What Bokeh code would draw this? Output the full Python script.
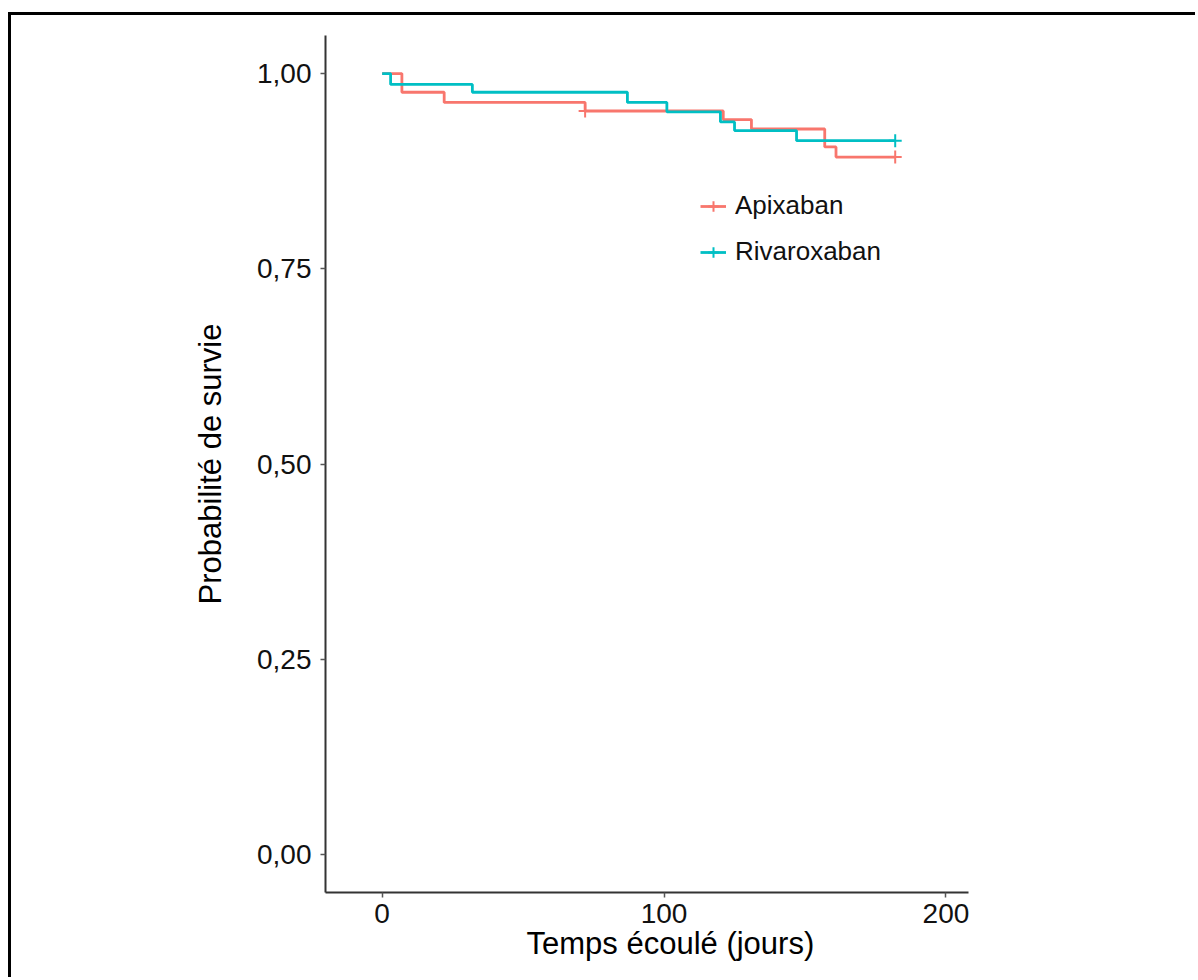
from bokeh.plotting import figure
from bokeh.models import Legend, LegendItem, FixedTicker, Range1d, Title
from bokeh.embed import file_html
from bokeh.resources import INLINE

# ---- data ----
apix_time = [0, 7, 22, 72, 121, 131, 157, 161, 182]
apix_surv = [1.0, 0.976, 0.963, 0.952, 0.941, 0.929, 0.906, 0.893, 0.893]
apix_cens_time = [72, 182]
apix_cens_surv = [0.952, 0.893]

riva_time = [0, 3, 32, 87, 101, 120, 125, 147, 182]
riva_surv = [1.0, 0.986, 0.976, 0.963, 0.951, 0.938, 0.927, 0.914, 0.914]
riva_cens_time = [182]
riva_cens_surv = [0.914]

series_names = ["Apixaban", "Rivaroxaban"]
x_ticks = [0, 100, 200]
y_ticks = [0.0, 0.25, 0.5, 0.75, 1.0]
y_tick_labels = ["0,00", "0,25", "0,50", "0,75", "1,00"]
x_title = "Temps écoulé (jours)"
y_title = "Probabilité de survie"

RED = "#F8766D"
TEAL = "#00BFC4"
FONT = "Liberation Sans"

p = figure(width=1187, height=965, output_backend="svg", toolbar_location=None,
           x_range=Range1d(-20.1, 208), y_range=Range1d(-0.0487, 1.0487),
           min_border_left=314, min_border_top=20, min_border_right=230,
           min_border_bottom=88)
p.styles = {"border-top": "3px solid black", "border-left": "3px solid black",
            "margin-top": "12px", "margin-left": "8px"}
p.outline_line_color = None
p.xgrid.visible = False
p.ygrid.visible = False
p.background_fill_color = "white"
p.border_fill_color = "white"

r1 = p.step(apix_time, apix_surv, mode="after", line_color=RED, line_width=2.8)
r2 = p.step(riva_time, riva_surv, mode="after", line_color=TEAL, line_width=2.8)
c1 = p.scatter(apix_cens_time, apix_cens_surv, marker="cross", size=13,
               line_color=RED, line_width=2)
c2 = p.scatter(riva_cens_time, riva_cens_surv, marker="cross", size=13,
               line_color=TEAL, line_width=2)

for ax in (p.xaxis[0], p.yaxis[0]):
    ax.axis_line_color = "#333333"
    ax.axis_line_width = 2
    ax.major_tick_line_color = "#555555"
    ax.major_tick_line_width = 1.5
    ax.major_tick_out = 5
    ax.major_tick_in = 0
    ax.minor_tick_out = 0
    ax.minor_tick_in = 0
    ax.major_label_text_font = FONT
    ax.major_label_text_font_size = "28px"
    ax.major_label_text_color = "#111111"
    ax.axis_label_text_font = FONT
    ax.axis_label_text_font_size = "31px"
    ax.axis_label_text_font_style = "normal"
    ax.axis_label_text_color = "black"

p.xaxis.ticker = FixedTicker(ticks=x_ticks)
p.yaxis.ticker = FixedTicker(ticks=y_ticks)
p.yaxis.major_label_overrides = {t: l for t, l in zip(y_ticks, y_tick_labels)}
p.yaxis.axis_label = y_title
p.xaxis.major_label_standoff = 6
p.yaxis.major_label_standoff = 9
p.yaxis.axis_label_standoff = 26

xt = Title(text=x_title, align="left", offset=201, text_font=FONT,
           text_font_size="31px", text_font_style="normal", text_color="black",
           standoff=0, vertical_align="top")
p.add_layout(xt, "below")

legend = Legend(items=[LegendItem(label=series_names[0], renderers=[r1, c1]),
                       LegendItem(label=series_names[1], renderers=[r2, c2])],
                location=(375, 625), orientation="vertical",
                label_text_font=FONT, label_text_font_size="26px",
                label_text_color="#111111",
                glyph_width=26, glyph_height=30, label_height=30,
                spacing=15, padding=0, margin=0, label_standoff=9,
                border_line_color=None, background_fill_alpha=0)
p.add_layout(legend)

open("out.html", "w").write(file_html(p, INLINE))
